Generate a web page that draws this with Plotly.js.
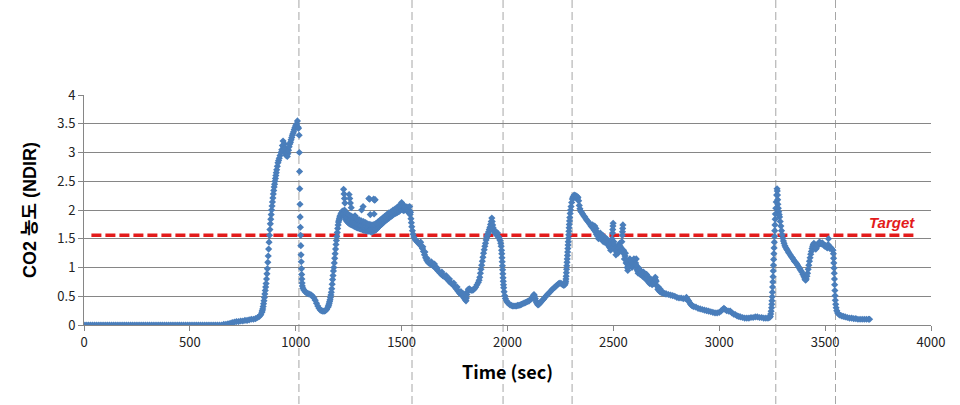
<!DOCTYPE html>
<html>
<head>
<meta charset="utf-8">
<script src="https://cdn.plot.ly/plotly-3.0.1.min.js"></script>
<style>
html,body{margin:0;padding:0;background:#fff;}
#chart{width:960px;height:405px;}
</style>
</head>
<body>
<div id="chart"></div>
<script>
// CO2 concentration (NDIR) readings, [time in sec, value], grouped by test phase
const phaseIdle = [[0,0],[10,0],[20,0],[30,0],[40,0],[50,0],[60,0],[70,0],[80,0],[90,0],[100,0],[110,0],[120,0],[130,0],[140,0],[150,0],[160,0],[170,0],[180,0],[190,0],[200,0],[210,0],[220,0],[230,0],[240,0],[250,0],[260,0],[270,0],[280,0],[290,0],[300,0],[310,0],[320,0],[330,0],[340,0],[350,0],[360,0],[370,0],[380,0],[390,0],[400,0],[410,0],[420,0],[430,0],[440,0],[450,0],[460,0],[470,0],[480,0],[490,0],[500,0],[510,0],[520,0],[530,0],[540,0],[550,0],[560,0],[570,0],[580,0],[590,0],[600,0],[610,0],[620,0],[630,0],[640,0],[650,0]];

const phaseRun1 = [[660,0.01],[670,0.01],[680,0.02],[690,0.03],[700,0.04],[710,0.05],[720,0.06],[730,0.06],[740,0.07],[750,0.07],[760,0.08],[770,0.08],[780,0.09],[790,0.1],[800,0.1],[810,0.11],[820,0.13],[828,0.15],[835,0.18],
[840,0.22],[842,0.25],[844,0.28],[846,0.32],[848,0.37],[850,0.42],[852,0.48],[854,0.54],[856,0.6],[858,0.66],[860,0.72],[862,0.8],[864,0.89],[866,0.98],[868,1.09],[870,1.2],[872,1.32],[874,1.44],[876,1.56],[878,1.66],[880,1.76],[882,1.84],[884,1.92],[886,2.0],[888,2.07],[890,2.14],[892,2.21],[894,2.28],[896,2.34],[898,2.4],[900,2.45],[902,2.5],[904,2.55],[906,2.6],[908,2.65],[910,2.7],[913,2.76],[916,2.82],[919,2.86],[922,2.9],[926,2.95],[930,3.0],
[934,3.05],[937,3.12],[940,3.2],[942,3.1],[945,3.04],[947,3.15],[950,3.08],[952,2.98],[955,2.95],[958,3.0],[960,2.93],[963,2.98],[966,3.04],[969,3.1],[972,3.15],[975,3.18],[978,3.22],[981,3.26],[984,3.3],[987,3.33],[990,3.36],[993,3.4],[996,3.43],[999,3.46],[1002,3.48],[1005,3.5],[1008,3.55],[1011,3.44],[1013,3.42],
[1016,3.3],[1017,3.0],[1018,2.67],[1019,2.37],[1020,2.1],[1021,1.88],[1022,1.7],[1023,1.56],[1024,1.38],[1025,1.22],[1026,1.1],[1027,0.98],[1028,0.88],[1029,0.8],[1030,0.73],[1031,0.68],
[1034,0.64],[1038,0.61],[1044,0.58],[1050,0.56],[1056,0.55],[1062,0.54],[1068,0.53],[1074,0.52],[1080,0.5],[1086,0.47],[1092,0.43],[1098,0.38],[1104,0.33],[1110,0.29],[1116,0.26],[1122,0.25],[1128,0.24],[1134,0.24],[1140,0.25],[1146,0.27],
[1152,0.31],[1154,0.33],[1156,0.35],[1158,0.38],[1160,0.41],[1162,0.44],[1164,0.48],[1166,0.52],[1168,0.57],[1170,0.63],[1172,0.71],[1174,0.79],[1176,0.86],[1178,0.94],[1180,1.0],[1182,1.08],[1184,1.16],[1186,1.24],[1188,1.32],[1190,1.4],[1192,1.47],[1194,1.54],[1196,1.61],[1198,1.68],[1200,1.74],[1202,1.79],[1204,1.82],[1206,1.85],[1208,1.88],[1210,1.9],[1213,1.93],[1216,1.95],[1220,1.98]];

const phaseRun2 = [[1225,1.93],[1230,1.88],[1235,1.84],[1240,1.81],[1245,1.79],[1250,1.77],[1255,1.76],[1260,1.75],[1265,1.74],[1270,1.73],[1275,1.72],[1280,1.71],[1285,1.7],[1290,1.69],[1295,1.69],[1300,1.68],[1305,1.67],[1310,1.67],[1315,1.66],[1320,1.65],[1325,1.65],[1330,1.64],[1335,1.64],[1340,1.63],[1345,1.63],[1350,1.63],[1355,1.62],[1360,1.62],[1365,1.63],[1370,1.64],[1375,1.65],[1380,1.66],[1385,1.68],[1390,1.7],[1395,1.72],[1400,1.74],[1405,1.75],[1410,1.77],[1415,1.79],[1420,1.8],[1425,1.82],[1430,1.83],[1435,1.85],[1440,1.86],[1445,1.88],[1450,1.89],[1455,1.9],[1460,1.92],[1465,1.93],[1470,1.94],[1475,1.95],[1480,1.96],[1485,1.97],[1490,1.98],[1495,2.0],[1500,2.03],[1505,2.0],[1510,1.99],[1515,2.0],[1520,2.01],[1525,1.99],[1530,1.97],[1535,1.95],[1540,1.92],[1544,1.85],
[1232,1.93],[1237,1.9],[1242,1.87],[1247,1.85],[1252,1.83],[1257,1.82],[1262,1.8],[1267,1.8],[1272,1.79],[1277,1.8],[1282,1.78],[1287,1.77],[1292,1.76],[1297,1.75],[1302,1.74],[1307,1.73],[1312,1.73],[1317,1.72],[1322,1.71],[1327,1.71],[1332,1.7],[1337,1.69],[1342,1.69],[1347,1.68],[1352,1.68],[1357,1.68],[1362,1.68],[1367,1.69],[1372,1.7],[1377,1.71],[1382,1.72],[1387,1.74],[1392,1.76],[1397,1.78],[1402,1.79],[1407,1.81],[1412,1.82],[1417,1.84],[1422,1.85],[1427,1.87],[1432,1.88],[1437,1.9],[1442,1.91],[1447,1.93],[1452,1.94],[1457,1.95],[1462,1.96],[1467,1.98],[1472,1.99],[1477,2.0],[1482,2.01],[1487,2.03],[1492,2.04],[1497,2.07],[1502,2.08],[1507,2.05],[1512,2.04],[1517,2.03],[1522,2.04],[1527,2.02],[1532,2.0],[1537,1.99],[1542,1.96],
[1230,2.0],[1240,1.95],[1250,1.92],[1260,1.9],[1270,1.88],[1280,1.9],[1290,1.85],[1300,1.83],[1310,1.81],[1320,1.8],[1330,1.78],[1340,1.76],[1350,1.75],[1360,1.74],[1370,1.75],[1380,1.77],[1390,1.8],[1400,1.83],[1410,1.86],[1420,1.89],[1430,1.92],[1440,1.95],[1450,1.97],[1460,2.0],[1470,2.02],[1480,2.05],[1490,2.08],[1500,2.13],[1510,2.08],[1520,2.06],[1530,2.05],[1538,2.06],
[1226,2.36],[1228,2.28],[1230,2.2],[1232,2.12],[1252,2.27],[1255,2.2],[1258,2.12],[1262,2.04],[1311,2.0],[1318,2.06],[1345,2.2],[1349,2.19],[1352,1.92],[1368,2.19],[1372,2.17],[1375,2.18],[1370,1.93]];

const phaseRun3 = [[1546,1.78],[1548,1.71],[1551,1.64],[1554,1.58],[1558,1.53],[1563,1.49],[1568,1.47],[1573,1.45],[1578,1.43],[1583,1.41],[1588,1.39],[1593,1.37],[1598,1.33],[1603,1.28],[1608,1.22],[1613,1.17],[1618,1.13],[1623,1.1],[1628,1.08],[1633,1.07],[1638,1.06],[1643,1.05],[1648,1.03],[1653,1.02],[1658,1.0],[1664,0.98],[1670,0.95],[1676,0.93],[1682,0.9],[1688,0.88],[1694,0.86],[1700,0.85],[1706,0.83],[1712,0.81],[1718,0.79],[1724,0.76],[1730,0.74],[1736,0.72],[1742,0.7],[1748,0.68],[1754,0.65],[1760,0.62],[1766,0.59],[1772,0.56],[1778,0.54],[1784,0.52],[1790,0.5],[1795,0.47],[1800,0.44],[1804,0.42],[1806,0.47],[1808,0.53],[1811,0.58],[1815,0.62],[1820,0.63],[1826,0.61],[1832,0.6],[1838,0.61],[1844,0.63],[1850,0.66],[1856,0.7],[1862,0.74],[1866,0.78],[1869,0.83],[1872,0.9],[1875,0.97],[1878,1.04],[1881,1.11],[1884,1.18],[1887,1.25],[1890,1.31],[1893,1.37],[1896,1.42],[1899,1.48],[1902,1.52],[1905,1.56],[1908,1.59],[1911,1.62],[1914,1.66],[1917,1.7],[1920,1.75],[1923,1.8],[1926,1.86],[1928,1.8],[1930,1.74],[1932,1.69],[1935,1.65],[1938,1.62],[1941,1.6],[1944,1.63],[1947,1.58],[1950,1.56],[1953,1.6],[1956,1.54],[1959,1.52],[1962,1.5],[1965,1.47],[1968,1.42],[1970,1.37],[1972,1.3],[1973,1.24],[1974,1.17],[1975,1.1],[1976,1.03],[1977,0.96],[1978,0.89],[1979,0.82],[1980,0.76],[1981,0.7],[1982,0.65],[1984,0.58],[1987,0.51],[1990,0.46],[1995,0.42],[2000,0.39],[2006,0.37],[2012,0.35],[2018,0.34],[2024,0.33],[2030,0.33],[2036,0.33],[2042,0.33],[2048,0.34],[2054,0.34],[2060,0.35],[2066,0.36],[2072,0.37],[2078,0.38],[2084,0.39],[2090,0.4],[2096,0.41],[2102,0.42],[2108,0.44],[2114,0.46],[2118,0.48],[2122,0.51],[2125,0.53],[2128,0.5],[2131,0.46],[2134,0.42],[2137,0.39],[2140,0.37],[2144,0.35],[2148,0.36],[2152,0.38],[2156,0.39],[2160,0.41],[2165,0.43],[2170,0.45],[2176,0.48],[2182,0.5],[2188,0.53],[2194,0.55],[2200,0.57],[2206,0.6],[2212,0.62],[2218,0.64],[2224,0.66],[2230,0.68],[2236,0.7],[2242,0.72],[2248,0.73],[2254,0.72],[2260,0.7],[2266,0.69],[2271,0.7],[2274,0.73],
[1590,1.44],[1600,1.36],[1610,1.27],[1620,1.16],[1640,1.1],[1655,1.06],[1668,0.99],[1690,0.92],[1710,0.86],[1726,0.8],[1746,0.73],[1762,0.66],[1780,0.58],[1792,0.54]];

const phaseRun4 = [[2275,0.76],[2276,0.8],[2277,0.85],[2278,0.91],[2279,0.97],[2280,1.03],[2281,1.09],[2282,1.15],[2283,1.21],[2284,1.27],[2285,1.33],[2286,1.39],[2287,1.45],[2288,1.51],[2289,1.57],[2290,1.63],[2291,1.69],[2292,1.75],[2293,1.81],[2294,1.87],[2296,1.94],[2298,2.0],[2300,2.06],[2303,2.13],[2306,2.19],[2309,2.22],[2312,2.24],[2315,2.26],[2318,2.22],[2321,2.25],[2324,2.21],[2327,2.24],[2330,2.2],[2333,2.22],[2336,2.16],[2339,2.08],[2342,2.02],[2346,1.98],[2350,1.96],[2355,1.93],[2360,1.9],[2365,1.88],[2370,1.85],[2375,1.82],[2380,1.8],[2385,1.78],[2390,1.75],[2395,1.72],[2400,1.7],[2405,1.68],[2410,1.65],[2415,1.62],[2420,1.58],[2425,1.55],[2430,1.5],[2435,1.52],[2440,1.55],[2445,1.5],[2450,1.46],[2455,1.49],[2460,1.52],[2465,1.47],[2470,1.42],[2475,1.39],[2480,1.36],[2485,1.34],[2490,1.4],[2494,1.5],[2496,1.6],[2497,1.66],[2498,1.72],[2499,1.77],[2502,1.45],[2506,1.36],[2510,1.3],[2515,1.27],[2520,1.32],[2525,1.38],[2530,1.42],[2535,1.35],[2540,1.45],[2542,1.56],[2543,1.62],[2544,1.68],[2545,1.74],[2548,1.3],[2550,1.24],[2555,1.2],[2560,1.08],[2565,1.0],[2570,1.04],[2575,1.1],[2580,1.06],[2585,1.08],[2590,1.12],[2595,1.1],[2600,1.13],[2605,1.08],[2610,1.0],[2615,0.94],[2620,0.92],[2625,0.91],[2630,0.9],[2635,0.89],[2640,0.88],[2645,0.87],[2650,0.86],[2655,0.83],[2660,0.8],[2665,0.78],[2670,0.77],[2675,0.76],[2680,0.75],[2685,0.76],[2690,0.78],[2695,0.81],[2698,0.83],[2702,0.76],[2706,0.68],[2710,0.62],[2715,0.6],[2720,0.58],[2725,0.57],[2730,0.56],[2735,0.56],[2740,0.55],[2745,0.54],[2750,0.54],[2760,0.53],[2770,0.52],[2780,0.51],[2790,0.5],[2800,0.48],[2810,0.47],[2820,0.47],[2830,0.46],[2840,0.46],[2845,0.48],[2850,0.45],[2855,0.42],[2860,0.39],[2865,0.36],[2870,0.34],[2875,0.33],[2880,0.32],[2890,0.31],[2900,0.29],[2910,0.28],[2920,0.27],[2930,0.26],[2940,0.25],[2950,0.24],[2960,0.23],[2970,0.22],[2980,0.21],[2990,0.21],[3000,0.22],[3008,0.24],[3016,0.27],[3022,0.29],[3028,0.27],[3035,0.25],[3045,0.24],[3052,0.24],[3060,0.21],[3068,0.19],[3076,0.18],[3084,0.16],[3092,0.15],[3100,0.14],[3110,0.13],[3120,0.12],[3130,0.12],[3140,0.12],[3150,0.13],[3160,0.13],[3170,0.14],[3180,0.14],[3190,0.13],[3200,0.13],[3210,0.12],[3220,0.12],[3230,0.12],[3238,0.13],
[2412,1.72],[2418,1.68],[2438,1.6],[2452,1.55],[2468,1.5],[2478,1.45],[2512,1.22],[2522,1.25],[2558,1.15],[2568,0.95],[2578,1.15],[2588,1.0],[2598,1.05],[2608,1.15],[2618,1.0],[2628,0.95],[2642,0.92],[2648,0.82],[2662,0.85],[2672,0.72],[2688,0.72],[2712,0.66],[2722,0.62],
[2402,1.74],[2407,1.7],[2422,1.62],[2427,1.6],[2432,1.56],[2442,1.5],[2447,1.56],[2457,1.44],[2462,1.46],[2472,1.46],[2482,1.4],[2487,1.3],[2492,1.33],[2504,1.4],[2508,1.33],[2517,1.3],[2527,1.33],[2532,1.37],[2537,1.3],[2552,1.15],[2557,1.25],[2562,1.12],[2567,1.06],[2572,1.0],[2577,1.05],[2582,1.12],[2587,1.04],[2592,1.06],[2597,1.15],[2602,1.06],[2607,1.04],[2612,0.96],[2617,0.9],[2622,0.96],[2627,0.88],[2632,0.93],[2637,0.85],[2644,0.9],[2652,0.8],[2657,0.88],[2667,0.74],[2677,0.8],[2683,0.7],[2693,0.75],[2700,0.78]];

const phaseRun5 = [[3241,0.15],[3243,0.19],[3245,0.24],[3247,0.3],[3248,0.36],[3249,0.42],[3250,0.49],[3251,0.57],[3252,0.66],[3253,0.75],[3254,0.84],[3255,0.94],[3256,1.04],[3257,1.14],[3258,1.24],[3259,1.34],[3260,1.44],[3261,1.54],[3262,1.64],[3263,1.74],[3264,1.84],[3265,1.93],[3267,2.03],[3269,2.14],[3271,2.26],[3273,2.37],[3274,2.33],[3275,2.26],[3276,2.18],[3277,2.1],[3279,2.03],[3281,1.97],[3283,1.92],[3285,1.88],[3288,1.8],[3291,1.72],[3294,1.64],[3297,1.57],[3300,1.51],[3303,1.46],[3306,1.42],[3310,1.38],[3314,1.35],[3318,1.32],[3322,1.3],[3326,1.27],[3330,1.25],[3335,1.22],[3340,1.19],[3345,1.17],[3350,1.14],[3355,1.11],[3360,1.09],[3365,1.07],[3370,1.04],[3375,1.01],[3380,0.98],[3385,0.95],[3390,0.92],[3395,0.88],[3400,0.84],[3404,0.8],[3408,0.78],[3411,0.8],[3414,0.85],[3417,0.9],[3420,0.97],[3423,1.04],[3426,1.11],[3429,1.17],[3432,1.23],[3435,1.28],[3438,1.33],[3441,1.37],[3444,1.4],[3447,1.42],[3450,1.4],[3453,1.36],[3456,1.32],[3459,1.34],[3462,1.37],[3466,1.4],[3470,1.43],[3474,1.44],[3478,1.42],[3482,1.41],[3486,1.43],[3490,1.41],[3494,1.39],[3498,1.37],[3502,1.38],[3506,1.36],[3510,1.34],[3514,1.4],[3516,1.5],[3519,1.36],[3522,1.33],[3526,1.35],[3530,1.33],[3534,1.31],[3537,1.3],[3539,1.24],[3540,1.16],[3541,1.08],[3542,0.99],[3543,0.9],[3544,0.8],[3545,0.7],[3546,0.6],[3547,0.51],[3548,0.43],[3550,0.36],[3552,0.3],[3555,0.25],[3559,0.21],[3564,0.19],[3570,0.17],[3578,0.16],[3586,0.15],[3595,0.14],[3605,0.13],[3615,0.12],[3625,0.12],[3635,0.11],[3645,0.11],[3655,0.1],[3665,0.1],[3675,0.1],[3685,0.1],[3695,0.1],[3705,0.1],[3710,0.1]];

const targetLevel = 1.56;
const targetSpan = [35, 3935];
const targetLabel = 'Target';
const eventTimes = [1015, 1549, 1979, 2305, 3267, 3549];
const xTickVals = [0, 500, 1000, 1500, 2000, 2500, 3000, 3500, 4000];
const yTickVals = [0, 0.5, 1, 1.5, 2, 2.5, 3, 3.5, 4];
const xTitle = 'Time (sec)';
const yTitle = 'CO2 농도 (NDIR)';

const readings = [].concat(phaseIdle, phaseRun1, phaseRun2, phaseRun3, phaseRun4, phaseRun5);
const timeSec = readings.map(p => p[0]);
const co2Ndir = readings.map(p => p[1]);

const traces = [
  {
    x: targetSpan, y: [targetLevel, targetLevel],
    type: 'scatter', mode: 'lines',
    line: {color: '#E31B1B', width: 3.5, dash: '10px,4px'},
    hoverinfo: 'skip'
  },
  {
    x: timeSec, y: co2Ndir,
    type: 'scatter', mode: 'markers',
    marker: {symbol: 'diamond', size: 5.5, color: '#4A7EBB', line: {width: 0}},
    hoverinfo: 'skip'
  }
];

const tickFont = {family: '"Noto Sans CJK KR", "Noto Sans", sans-serif', size: 13, color: '#222'};
const xTitleFont = {family: '"Noto Sans CJK KR", "Noto Sans", sans-serif', size: 18, color: '#000'};
const yTitleFont = {family: '"Liberation Sans", "Noto Sans CJK KR", sans-serif', size: 18, color: '#000'};

const layout = {
  width: 960, height: 405,
  margin: {l: 84, r: 29, t: 95, b: 80, pad: 0},
  paper_bgcolor: '#ffffff',
  plot_bgcolor: 'rgba(0,0,0,0)',
  showlegend: false,
  hovermode: false,
  xaxis: {
    range: [0, 4000], tickvals: xTickVals,
    ticks: 'outside', ticklen: 5, tickcolor: '#868686',
    showline: true, linecolor: '#868686', linewidth: 1,
    showgrid: false, zeroline: false,
    tickfont: tickFont,
    title: {text: '<b>' + xTitle + '</b>', font: xTitleFont, standoff: 16}
  },
  yaxis: {
    range: [0, 4], tickvals: yTickVals,
    ticks: 'outside', ticklen: 5, tickcolor: '#868686',
    showline: true, linecolor: '#868686', linewidth: 1,
    showgrid: true, gridcolor: '#868686', gridwidth: 1,
    zeroline: false,
    tickfont: tickFont,
    title: {text: '<b>' + yTitle + '</b>', font: yTitleFont, standoff: 16}
  },
  shapes: eventTimes.map(t => ({
    type: 'line', xref: 'x', yref: 'paper',
    x0: t, x1: t, y0: -0.5, y1: 1.5,
    line: {color: '#A6A6A6', width: 1, dash: '8px,4px'},
    layer: 'below'
  })),
  annotations: [{
    xref: 'x', yref: 'y', x: targetSpan[1], y: targetLevel,
    text: '<b><i>' + targetLabel + '</i></b>',
    showarrow: false, xanchor: 'right', yanchor: 'bottom', yshift: 2,
    font: {family: '"Liberation Sans", Arial, sans-serif', size: 15, color: '#E31B1B'}
  }]
};

Plotly.newPlot('chart', traces, layout, {displayModeBar: false, staticPlot: true});
</script>
</body>
</html>
